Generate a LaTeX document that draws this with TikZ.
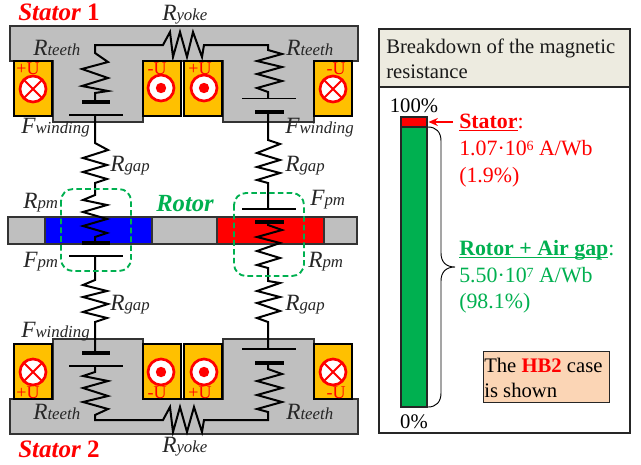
\documentclass[tikz,border=0pt]{standalone}
\usepackage{fontspec}
\usetikzlibrary{arrows.meta}
\setmainfont{Liberation Serif}
\definecolor{cgray}{HTML}{BFBFBF}
\definecolor{cyel}{HTML}{FFC000}
\definecolor{cgreen}{HTML}{00B050}
\definecolor{chead}{HTML}{EDEBE0}
\definecolor{cpeach}{HTML}{FBD5B5}
\newcommand{\sym}[2]{{\fontsize{17.5}{18}\selectfont\itshape #1}{\fontsize{12.6}{14}\selectfont\itshape #2}}
\newcommand{\fs}{\fontsize{15.5}{17}\selectfont}
\newcommand{\sups}[1]{\raisebox{.42ex}{\fontsize{10.5}{11}\selectfont #1}}
\tikzset{
  wire/.style={line width=1.5pt,line join=miter},
  thinbar/.style={line width=1.2pt},
  thickbar/.style={line width=2.9pt},
  solid box/.style={draw=black!80,line width=.8pt},
  slotbox/.style={draw=black,line width=.8pt,fill=cyel},
  lab/.style={anchor=base west,inner sep=0pt,text=black!85},
  ulab/.style={anchor=base,inner sep=0pt,text=red,font=\fontsize{13.5}{14}\selectfont},
  ptext/.style={anchor=base west,inner sep=0pt,font=\fs},
  bigtext/.style={anchor=base west,inner sep=0pt,font=\fontsize{16.4}{18}\selectfont},
  headtext/.style={anchor=base west,inner sep=0pt,font=\fs,text=black!90},
  dashbox/.style={draw=cgreen,line width=1.4pt,dash pattern=on 4.2pt off 2.4pt,rounded corners=9pt},
  cross/.pic={\draw[red,line width=2pt,fill=white] (0,0) circle (13);
    \draw[red,line width=1.5pt] (-9,-9) -- (9,9) (-9,9) -- (9,-9);},
  dotc/.pic={\draw[red,line width=2pt,fill=white] (0,0) circle (13);
    \fill[red] (0,0) circle (5.2);},
}
\begin{document}
\begin{tikzpicture}[x=.75pt,y=-.75pt]
\useasboundingbox (0,0) rectangle (641,464);
% stator 1
\draw[solid box,fill=cgray] (10,26) -- (358,26) -- (358,61) -- (314,61) -- (314,122) -- (223,122) -- (223,61) -- (143,61) -- (143,122) -- (53,122) -- (53,61) -- (10,61) -- cycle;
\foreach \a in {14,143,184,314} \draw[slotbox] (\a,61) rectangle (\a+38,116);
\pic at (33,89) {cross};
\pic at (161,88) {dotc};
\pic at (204,88) {dotc};
\pic at (333,89) {cross};
\node[ulab] (ua) at (28,74) {+U};
\node[ulab] (ub) at (157,74) {-U};
\node[ulab] (uc) at (200,74) {+U};
\node[ulab] (ud) at (336,74) {-U};
% stator 2
\draw[solid box,fill=cgray] (10,434) -- (358,434) -- (358,399) -- (314,399) -- (314,339) -- (223,339) -- (223,399) -- (143,399) -- (143,339) -- (53,339) -- (53,399) -- (10,399) -- cycle;
\foreach \a in {14,143,184,314} \draw[slotbox] (\a,344) rectangle (\a+38,399);
\pic at (33,372) {cross};
\pic at (161,372) {dotc};
\pic at (204,372) {dotc};
\pic at (333,372) {cross};
\node[ulab] (ue) at (28,398) {+U};
\node[ulab] (uf) at (157,398) {-U};
\node[ulab] (ug) at (200,398) {+U};
\node[ulab] (uh) at (336,398) {-U};
% rotor
\draw[solid box,fill=cgray] (8,217) rectangle (357,244);
\draw[solid box,fill=blue] (45,217) rectangle (152,244);
\draw[solid box,fill=red] (217,217) rectangle (324,244);
% top circuit
\draw[wire] (95,101) -- (95,93) -- (108,91) -- (82,86) -- (108,78) -- (82,69) -- (108,62) -- (95,53) -- (95,45) -- (163,45) -- (170,32) -- (173,57) -- (180,32) -- (187,57) -- (193,32) -- (202,57) -- (204,45) -- (268,45) -- (268,50) -- (282,54) -- (257,61) -- (282,67) -- (257,74) -- (282,81) -- (257,88) -- (268,92) -- (268,98);
\draw[thickbar] (82,102) -- (110,102);
\draw[thinbar] (69,115) -- (123,115);
\draw[thinbar] (242,98.5) -- (296,98.5);
\draw[thickbar] (255,112) -- (284,112);
% left column
\draw[wire] (95,115) -- (95,143) -- (108,150) -- (83,158) -- (107,165) -- (83,172) -- (107,179) -- (95,183) -- (95,195) -- (83,200) -- (107,205) -- (83,212) -- (107,219) -- (83,226) -- (107,233) -- (95,237) -- (95,243);
\draw[thickbar] (82,243) -- (110,243);
\draw[thinbar] (69,256) -- (123,256);
\draw[wire] (95,256) -- (95,280) -- (83,285) -- (107,291) -- (83,297) -- (108,304) -- (83,312) -- (107,318) -- (95,322) -- (95,353);
\draw[thickbar] (82,353) -- (110,353);
\draw[thinbar] (69,366) -- (123,366);
% right column
\draw[wire] (268,112) -- (268,140) -- (280,144) -- (257,153) -- (280,160) -- (257,167) -- (280,173) -- (257,180) -- (268,183) -- (268,209);
\draw[thinbar] (242,209) -- (296,209);
\draw[thickbar] (255,222) -- (284,222);
\draw[wire] (268,222) -- (268,225) -- (282,230) -- (257,237) -- (280,243) -- (257,251) -- (280,258) -- (257,265) -- (268,268) -- (268,281) -- (280,283) -- (257,291) -- (280,297) -- (257,303) -- (280,311) -- (257,318) -- (268,322) -- (268,349);
\draw[thinbar] (242,349) -- (296,349);
\draw[thickbar] (255,363) -- (284,363);
% bottom circuit
\draw[wire] (95,366) -- (95,372) -- (83,376) -- (108,381) -- (83,388) -- (108,396) -- (83,402) -- (108,409) -- (95,415) -- (95,420) -- (163,420) -- (170,407) -- (173,432) -- (180,407) -- (187,432) -- (194,407) -- (202,432) -- (204,420) -- (268,420) -- (268,412) -- (257,409) -- (282,402) -- (257,395) -- (282,388) -- (257,381) -- (282,374) -- (268,369) -- (268,363);
% dashed groups
\draw[dashbox] (61,189) rectangle (131,271);
\draw[dashbox] (234,193) rectangle (304,276);
% labels
\node[lab,font=\bfseries\itshape\fontsize{18.8}{19}\selectfont,text=red] (s1) at (18,20) {Stator \upshape 1};
\node[lab,font=\bfseries\itshape\fontsize{18.8}{19}\selectfont,text=red] (s2) at (18,457) {Stator \upshape 2};
\node[lab,font=\bfseries\itshape\fontsize{18.5}{19}\selectfont,text=cgreen] (rot) at (156,211) {Rotor};
\node[lab] (y1) at (162,20) {\sym{R}{yoke}};
\node[lab] (y2) at (162,452) {\sym{R}{yoke}};
\node[lab] (t1) at (33,55) {\sym{R}{teeth}};
\node[lab] (t2) at (286,55) {\sym{R}{teeth}};
\node[lab] (t3) at (33,419) {\sym{R}{teeth}};
\node[lab] (t4) at (286,419) {\sym{R}{teeth}};
\node[lab] (w1) at (21,133) {\sym{F}{winding}};
\node[lab] (w2) at (285,133) {\sym{F}{winding}};
\node[lab] (w3) at (21,337) {\sym{F}{winding}};
\node[lab] (g1) at (110,171) {\sym{R}{gap}};
\node[lab] (g2) at (285,171) {\sym{R}{gap}};
\node[lab] (g3) at (110,310) {\sym{R}{gap}};
\node[lab] (g4) at (285,310) {\sym{R}{gap}};
\node[lab] (p1) at (23,208) {\sym{R}{pm}};
\node[lab] (p2) at (23,267) {\sym{F}{pm}};
\node[lab] (p3) at (310,205) {\sym{F}{pm}};
\node[lab] (p4) at (308,267) {\sym{R}{pm}};
% panel
\draw[black!85,line width=1pt,fill=white] (379,29) rectangle (630,433);
\draw[black!85,line width=1pt,fill=chead] (379,29) rectangle (630,87);
\node[headtext] (h1) at (386,53) {Breakdown of the magnetic};
\node[headtext] (h2) at (386,78) {resistance};
\draw[black!85,line width=.9pt,fill=cgreen] (401,127) rectangle (427,407);
\draw[black!85,line width=.9pt,fill=red] (401,117) rectangle (427,127);
\node[ptext,anchor=base] (p100) at (414,112) {100\%};
\node[ptext,anchor=base] (p0) at (414,428) {0\%};
\coordinate (at) at (453,122);
\coordinate (ah) at (428.5,122);
\draw[red,line width=1pt,-{Stealth[length=7pt,width=6pt]}] (at) -- (ah);
\draw[black,line width=.7pt] (428,127) .. controls (436,127) and (441,132) .. (441,141) -- (441,253) .. controls (441,262) and (446,267) .. (455,267) .. controls (446,267) and (441,272) .. (441,281) -- (441,393) .. controls (441,402) and (436,407) .. (428,407);
\node[bigtext,text=red] (st1) at (459,128) {\underline{\smash{\textbf{Stator}}}:};
\node[bigtext,text=red] (st2) at (459,155) {1.07·10\sups{6} A/Wb};
\node[bigtext,text=red] (st3) at (459,182) {(1.9\%)};
\node[bigtext,text=cgreen] (ro1) at (459,255) {\underline{\smash{\textbf{Rotor + Air gap}}}:};
\node[bigtext,text=cgreen] (ro2) at (459,282) {5.50·10\sups{7} A/Wb};
\node[bigtext,text=cgreen] (ro3) at (459,308) {(98.1\%)};
\draw[black!85,line width=.7pt,fill=cpeach] (483,351) rectangle (609,402);
\node[ptext] (hb1) at (484,372) {The \textcolor{red}{\textbf{HB2}} case};
\node[ptext] (hb2) at (484,397) {is shown};
\end{tikzpicture}
\end{document}
